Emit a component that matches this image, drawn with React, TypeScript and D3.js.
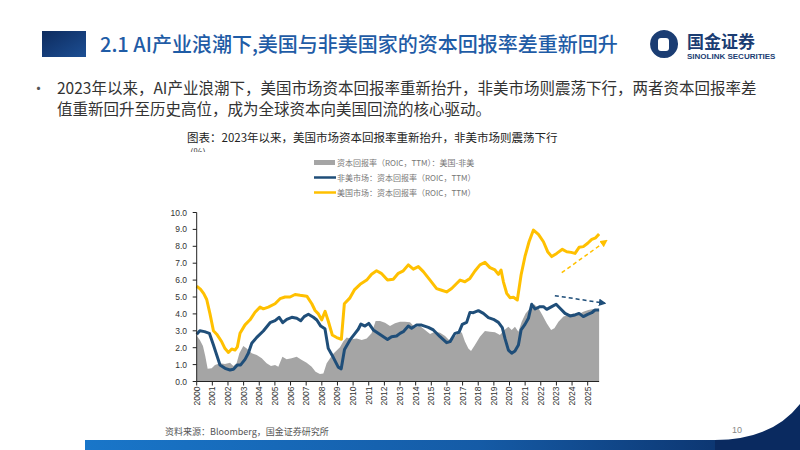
import * as d3 from "d3";

const W = 800;
const H = 450;

// 美国市场资本回报率（ROIC，TTM），[年份, %]
const usRoic: [number, number][] = [
  [2000.0, 5.65], [2000.25, 5.45], [2000.45, 5.2], [2000.64, 4.85], [2000.85, 4.0],
  [2001.07, 3.0], [2001.28, 2.8], [2001.6, 2.35], [2001.81, 1.95], [2002.03, 1.72],
  [2002.24, 1.92], [2002.45, 1.86], [2002.6, 2.05], [2002.77, 2.85], [2003.09, 3.35],
  [2003.41, 3.65], [2003.73, 4.1], [2004.05, 4.4], [2004.26, 4.3], [2004.58, 4.4],
  [2005.01, 4.6], [2005.33, 4.9], [2005.65, 5.0], [2005.97, 5.0], [2006.29, 5.15],
  [2006.61, 5.1], [2007.04, 5.05], [2007.36, 4.6], [2007.57, 4.2], [2007.78, 4.0],
  [2007.99, 3.65], [2008.21, 4.15], [2008.42, 3.55], [2008.67, 2.75], [2008.95, 2.6],
  [2009.25, 2.5], [2009.44, 4.6], [2009.8, 4.95], [2010.08, 5.42], [2010.45, 5.75],
  [2010.87, 6.0], [2011.18, 6.35], [2011.5, 6.55], [2011.8, 6.4], [2012.2, 6.0],
  [2012.57, 6.05], [2012.89, 6.4], [2013.21, 6.55], [2013.53, 6.9], [2013.85, 6.65],
  [2014.17, 6.8], [2014.49, 6.5], [2014.92, 6.0], [2015.34, 5.5], [2015.66, 5.4],
  [2015.98, 5.3], [2016.3, 5.5], [2016.62, 5.8], [2016.84, 6.0], [2017.15, 5.9],
  [2017.47, 6.1], [2017.79, 6.54], [2018.11, 6.9], [2018.43, 7.05], [2018.75, 6.74],
  [2019.07, 6.6], [2019.29, 6.34], [2019.46, 6.6], [2019.61, 5.9], [2019.82, 5.22],
  [2020.03, 4.96], [2020.25, 4.98], [2020.5, 4.82], [2020.74, 6.3], [2020.99, 7.4],
  [2021.25, 8.27], [2021.53, 8.96], [2021.85, 8.7], [2022.17, 8.27], [2022.44, 7.68],
  [2022.7, 7.39], [2023.02, 7.58], [2023.38, 7.82], [2023.66, 7.68], [2023.94, 7.64],
  [2024.19, 7.58], [2024.45, 7.94], [2024.72, 7.98], [2025.0, 8.18], [2025.26, 8.41],
  [2025.51, 8.5], [2025.73, 8.73],
];

// 非美市场资本回报率（ROIC，TTM）
const nonUsRoic: [number, number][] = [
  [2000.0, 2.8], [2000.2, 3.0], [2000.5, 2.95], [2000.81, 2.85], [2001.07, 2.16],
  [2001.28, 1.57], [2001.49, 0.98], [2001.81, 0.78], [2002.13, 0.68], [2002.35, 0.72],
  [2002.6, 0.98], [2002.81, 0.98], [2003.09, 1.31], [2003.3, 1.67], [2003.52, 2.26],
  [2003.84, 2.61], [2004.26, 2.99], [2004.69, 3.48], [2005.01, 3.6], [2005.27, 3.8],
  [2005.5, 3.48], [2005.76, 3.68], [2006.08, 3.8], [2006.4, 3.74], [2006.65, 3.6],
  [2006.87, 3.84], [2007.14, 3.98], [2007.46, 3.8], [2007.68, 3.64], [2007.93, 3.28],
  [2008.2, 3.12], [2008.41, 1.96], [2008.73, 1.43], [2009.05, 0.85], [2009.24, 0.75],
  [2009.45, 1.9], [2009.8, 2.46], [2010.1, 2.82], [2010.33, 3.09], [2010.5, 3.4],
  [2010.76, 3.28], [2011.0, 3.44], [2011.29, 3.05], [2011.7, 2.79], [2012.2, 2.48],
  [2012.46, 2.65], [2012.78, 2.69], [2013.0, 2.85], [2013.21, 2.95], [2013.53, 3.28],
  [2013.74, 3.15], [2014.06, 3.34], [2014.38, 3.34], [2014.81, 3.2], [2015.13, 3.05],
  [2015.56, 2.65], [2015.98, 2.3], [2016.2, 2.36], [2016.52, 2.85], [2016.77, 2.91],
  [2016.98, 3.38], [2017.26, 3.5], [2017.47, 4.09], [2017.69, 4.07], [2018.01, 4.19],
  [2018.33, 4.03], [2018.65, 3.78], [2018.97, 3.68], [2019.29, 3.5], [2019.54, 3.19],
  [2019.71, 2.55], [2019.93, 1.86], [2020.14, 1.67], [2020.35, 1.8], [2020.57, 2.16],
  [2020.74, 3.05], [2020.99, 3.38], [2021.21, 3.74], [2021.42, 4.57], [2021.63, 4.29],
  [2021.95, 4.43], [2022.17, 4.43], [2022.38, 4.27], [2022.7, 4.43], [2022.98, 4.57],
  [2023.23, 4.33], [2023.55, 4.03], [2023.87, 3.88], [2024.19, 3.94], [2024.45, 4.03],
  [2024.72, 3.84], [2025.0, 3.97], [2025.26, 4.07], [2025.47, 4.23], [2025.73, 4.23],
];

// 资本回报率差：美国-非美
const roicSpread: [number, number][] = [
  [2000.0, 2.7], [2000.2, 2.45], [2000.4, 2.1], [2000.55, 1.5], [2000.7, 0.75],
  [2000.96, 0.78], [2001.17, 0.98], [2001.49, 1.08], [2001.81, 1.04], [2002.13, 1.11],
  [2002.34, 0.92], [2002.55, 1.08], [2002.73, 1.67], [2002.98, 2.1], [2003.2, 1.96],
  [2003.52, 1.67], [2003.84, 1.57], [2004.16, 1.37], [2004.47, 1.08], [2004.75, 0.92],
  [2005.01, 0.98], [2005.22, 0.88], [2005.48, 1.47], [2005.75, 1.31], [2006.07, 1.37],
  [2006.39, 1.47], [2006.72, 1.27], [2007.03, 1.11], [2007.35, 0.88], [2007.6, 0.58],
  [2007.88, 0.44], [2008.1, 0.48], [2008.31, 1.08], [2008.53, 1.37], [2008.75, 1.65],
  [2009.16, 2.02], [2009.37, 2.36], [2009.59, 2.61], [2009.9, 2.5], [2010.23, 2.55],
  [2010.55, 2.46], [2010.87, 2.55], [2011.18, 2.85], [2011.44, 3.58], [2011.72, 3.58],
  [2012.04, 3.48], [2012.36, 3.28], [2012.68, 3.44], [2013.0, 3.54], [2013.32, 3.54],
  [2013.64, 3.5], [2013.96, 3.2], [2014.28, 3.28], [2014.6, 3.05], [2014.92, 2.81],
  [2015.24, 2.95], [2015.56, 2.89], [2015.88, 2.69], [2016.13, 2.46], [2016.41, 2.55],
  [2016.73, 2.9], [2016.95, 2.9], [2017.15, 2.36], [2017.37, 1.96], [2017.54, 1.8],
  [2017.79, 2.16], [2018.11, 2.65], [2018.43, 2.99], [2018.75, 2.95], [2019.07, 2.91],
  [2019.39, 2.75], [2019.67, 3.05], [2019.93, 3.24], [2020.14, 3.05], [2020.35, 3.24],
  [2020.57, 2.95], [2020.78, 3.54], [2021.03, 4.03], [2021.31, 4.33], [2021.57, 4.57],
  [2021.85, 4.33], [2022.1, 3.94], [2022.38, 3.44], [2022.66, 3.05], [2022.87, 3.15],
  [2023.13, 3.54], [2023.45, 3.84], [2023.76, 3.94], [2024.08, 4.03], [2024.4, 3.97],
  [2024.72, 4.13], [2025.04, 4.23], [2025.36, 4.29], [2025.73, 4.23],
];

const yTicks = d3.range(0, 10.5, 1);
const yearTicks = d3.range(2000, 2026);

// 趋势箭头（数据坐标）
const usTrend: [number, number][] = [[2023.34, 6.44], [2026.2, 8.33]];
const nonUsTrend: [number, number][] = [[2022.9, 5.08], [2026.1, 4.63]];

const legendLabels = [
  "资本回报率（ROIC，TTM）：美国-非美",
  "非美市场：资本回报率（ROIC，TTM）",
  "美国市场：资本回报率（ROIC，TTM）",
];

const GRAY = "#a5a5a5";
const NAVY = "#1f4e79";
const GOLD = "#ffc000";
const CJK = "'Noto Sans CJK SC', 'Noto Sans', sans-serif";
const NUM = "'Liberation Sans', Arial, sans-serif";

export default function App() {
  const x = d3.scaleLinear().domain([2000, 2025]).range([196.7, 587.7]);
  const y = d3.scaleLinear().domain([0, 10]).range([381.5, 212.5]);
  const xEnd = x(2025.73);

  const line = d3.line<[number, number]>().x(d => x(d[0])).y(d => y(d[1]));
  const area = d3.area<[number, number]>().x(d => x(d[0])).y0(y(0)).y1(d => y(d[1]));

  return (
    <svg width={W} height={H} style={{position: "absolute", left: 0, top: 0}} fontFamily={CJK}>
      <defs>
        <linearGradient id="hdr" x1="0" x2="1" y1="0" y2="1">
          <stop offset="0" stopColor="#0d2b5e"/>
          <stop offset="1" stopColor="#1d4f94"/>
        </linearGradient>
        <linearGradient id="band" x1="0" x2="1" y1="0" y2="0">
          <stop offset="0" stopColor="#1976c9"/>
          <stop offset="0.55" stopColor="#155ba6"/>
          <stop offset="1" stopColor="#0a2a60"/>
        </linearGradient>
        {/* 单位只露出上半截 */}
        <clipPath id="unitClip">
          <rect x={180} y={147} width={40} height={5}/>
        </clipPath>
        <marker id="arrGold" viewBox="0 0 10 10" refX="8" refY="5" markerWidth="5" markerHeight="5" orient="auto">
          <path d="M0,0 L10,5 L0,10 Z" fill={GOLD}/>
        </marker>
        <marker id="arrNavy" viewBox="0 0 10 10" refX="8" refY="5" markerWidth="5" markerHeight="5" orient="auto">
          <path d="M0,0 L10,5 L0,10 Z" fill={NAVY}/>
        </marker>
      </defs>

      <rect width={W} height={H} fill="#fff"/>

      {/* 页眉 */}
      <rect x={42} y={31} width={44} height={26} fill="url(#hdr)"/>
      <text x={100} y={52} fontSize={20} fill="#1f5ca6" fontWeight={500}>
        2.1 AI产业浪潮下,美国与非美国家的资本回报率差重新回升
      </text>
      <g>
        <path d="M664,30 a14,14 0 1,0 0.1,0 Z" fill="#1b3d73"/>
        <rect x={658} y={38} width={11} height={13} rx={3} fill="#fff"/>
        <text x={687} y={48} fontSize={17} fontWeight={700} fill="#1b3d73">国金证券</text>
        <text x={687} y={59} fontSize={8} fontWeight={700} fill="#1b3d73" fontFamily={NUM}>SINOLINK SECURITIES</text>
      </g>

      {/* 正文 */}
      <text x={31} y={94} fontSize={15} fill="#555">•</text>
      <text x={57} y={94} fontSize={15.5} fill="#333">
        2023年以来，AI产业浪潮下，美国市场资本回报率重新抬升，非美市场则震荡下行，两者资本回报率差
      </text>
      <text x={57} y={115} fontSize={15.5} fill="#333">
        值重新回升至历史高位，成为全球资本向美国回流的核心驱动。
      </text>

      {/* 图表标题 */}
      <text x={187} y={142} fontSize={11.5} fill="#222">
        图表：2023年以来，美国市场资本回报率重新抬升，非美市场则震荡下行
      </text>
      <text x={190} y={156} fontSize={10} fill="#444" clipPath="url(#unitClip)">(%)</text>

      {/* 图例 */}
      <g fontSize={8} fill="#777">
        {legendLabels.map((label, i) => {
          const ly = 162.5 + i * 15;
          return (
            <g key={label}>
              {i === 0
                ? <rect x={314} y={ly - 2.5} width={21} height={5} fill={GRAY}/>
                : <line x1={314} x2={336} y1={ly} y2={ly} stroke={i === 1 ? NAVY : GOLD} strokeWidth={2.5}/>}
              <text x={337} y={ly + 3}>{label}</text>
            </g>
          );
        })}
      </g>

      {/* 数据 */}
      <path d={area(roicSpread) ?? ""} fill={GRAY}/>
      <path d={line(nonUsRoic) ?? ""} fill="none" stroke={NAVY} strokeWidth={3} strokeLinejoin="round"/>
      <path d={line(usRoic) ?? ""} fill="none" stroke={GOLD} strokeWidth={3} strokeLinejoin="round"/>

      <line x1={x(usTrend[0][0])} y1={y(usTrend[0][1])} x2={x(usTrend[1][0])} y2={y(usTrend[1][1])}
            stroke={GOLD} strokeWidth={1.5} strokeDasharray="4 3" markerEnd="url(#arrGold)"/>
      <line x1={x(nonUsTrend[0][0])} y1={y(nonUsTrend[0][1])} x2={x(nonUsTrend[1][0])} y2={y(nonUsTrend[1][1])}
            stroke={NAVY} strokeWidth={1.5} strokeDasharray="4 3" markerEnd="url(#arrNavy)"/>

      {/* 坐标轴 */}
      <g fontFamily={NUM} fontSize={8.5} fill="#333">
        <line x1={x(2000)} x2={x(2000)} y1={y(10)} y2={y(0)} stroke="#222" strokeWidth={1}/>
        {yTicks.map(t => (
          <g key={t}>
            <line x1={x(2000) - 4} x2={x(2000)} y1={y(t)} y2={y(t)} stroke="#222"/>
            <text x={187} y={y(t) + 3} textAnchor="end">{t.toFixed(1)}</text>
          </g>
        ))}
        <line x1={x(2000)} x2={xEnd} y1={y(0)} y2={y(0)} stroke="#222" strokeWidth={1}/>
        {yearTicks.map(yr => (
          <g key={yr}>
            <line x1={x(yr)} x2={x(yr)} y1={y(0)} y2={y(0) + 4} stroke="#222"/>
            <text transform={`translate(${x(yr)},${y(0) + 5}) rotate(-90)`} textAnchor="end" dy="0.35em">{yr}</text>
          </g>
        ))}
      </g>

      {/* 页脚 */}
      <text x={165} y={435} fontSize={9} fill="#555">资料来源：Bloomberg，国金证券研究所</text>
      <text x={732} y={433} fontSize={9} fill="#888" fontFamily={NUM}>10</text>
      <rect x={85} y={440} width={W - 85} height={10} fill="url(#band)"/>
      <path d="M715,450 L715,440 Q772,440 800,404 L800,450 Z" fill="#0a2a60"/>
    </svg>
  );
}
